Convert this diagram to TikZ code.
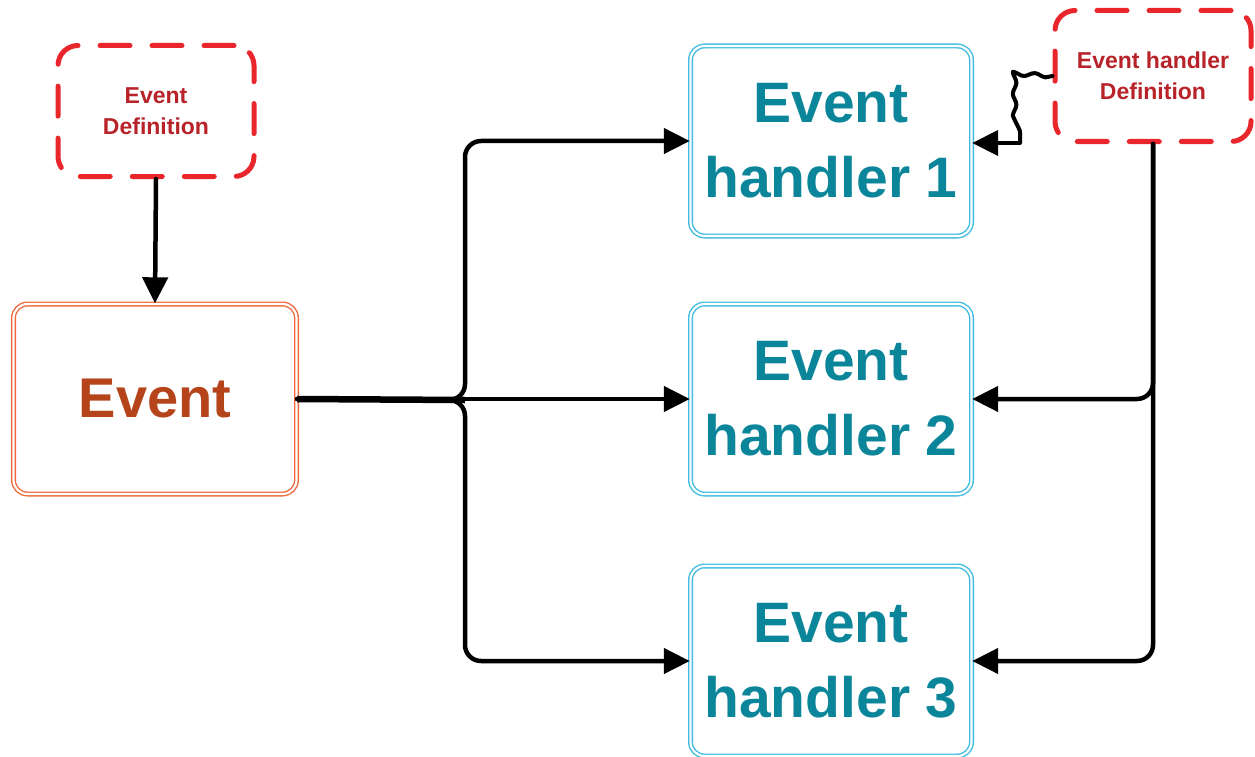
\documentclass[tikz,border=0pt]{standalone}
\usepackage{fontspec}
\setmainfont{Liberation Sans}
\usetikzlibrary{arrows.meta,decorations.pathmorphing}
\definecolor{dashred}{HTML}{E8262B}
\definecolor{deftext}{HTML}{B8232A}
\definecolor{evline}{HTML}{EE6A3C}
\definecolor{evtext}{HTML}{B5441A}
\definecolor{hline}{HTML}{3FBCE0}
\definecolor{htext}{HTML}{0B8599}
\tikzset{
  defbox/.style={draw=dashred, line width=5pt, dash pattern=on 30pt off 22pt, line cap=round,
    rounded corners=20pt, minimum width=196pt, minimum height=131pt, align=center,
    text=deftext, font=\fontsize{23}{31}\selectfont\bfseries},
  evbox/.style={draw=evline, double=white, double distance=2.2pt, line width=1.4pt,
    rounded corners=14pt, minimum width=283pt, minimum height=190pt, align=center,
    text=evtext, font=\fontsize{56}{75}\selectfont\bfseries},
  hbox/.style={draw=hline, double=white, double distance=2.2pt, line width=1.4pt,
    rounded corners=14pt, minimum width=281pt, minimum height=190pt, align=center,
    text=htext, font=\fontsize{57}{75}\selectfont\bfseries},
  conn/.style={draw=black, line width=4.5pt, line cap=round, rounded corners=16pt,
    -{Triangle[length=26pt,width=25pt]}},
}
\begin{document}
\begin{tikzpicture}[x=1pt,y=-1pt]
\useasboundingbox (0,0) rectangle (1255,757);
\node[defbox] (evdef) at (156,111) {Event\\Definition};
\node[defbox] (ehdef) at (1153,76) {Event handler\\Definition};
\node[evbox] (event) at (155,399) {Event};
\node[hbox] (eh1) at (831,141) {Event\\handler 1};
\node[hbox] (eh2) at (831,399) {Event\\handler 2};
\node[hbox] (eh3) at (831,661) {Event\\handler 3};
\coordinate (j) at (465,400);
\coordinate (w1) at (1020,74);
\coordinate (w2) at (1020,143);
% from event definition to event
\draw[conn] (evdef.south) -- (event.north);
% event to handlers
\draw[line width=6.5pt] (event.east) -- (j);
\draw[conn] (event.east) -- (j) |- (eh1.west);
\draw[conn] (event.east) -- (eh2.west);
\draw[conn] (event.east) -- (j) |- (eh3.west);
% handler definition to handlers
\draw[conn] (ehdef.south) |- (eh2.east);
\draw[conn] (ehdef.south) |- (eh3.east);
\draw[line width=4pt, line cap=round, line join=round, decorate,
  decoration={snake, amplitude=1.8pt, segment length=22pt}]
  (ehdef.west) -- (w1) -- (w2);
\draw[line width=4pt, -{Triangle[length=26pt,width=25pt]}] (w2) -- (eh1.east |- w2);
\end{tikzpicture}
\end{document}
